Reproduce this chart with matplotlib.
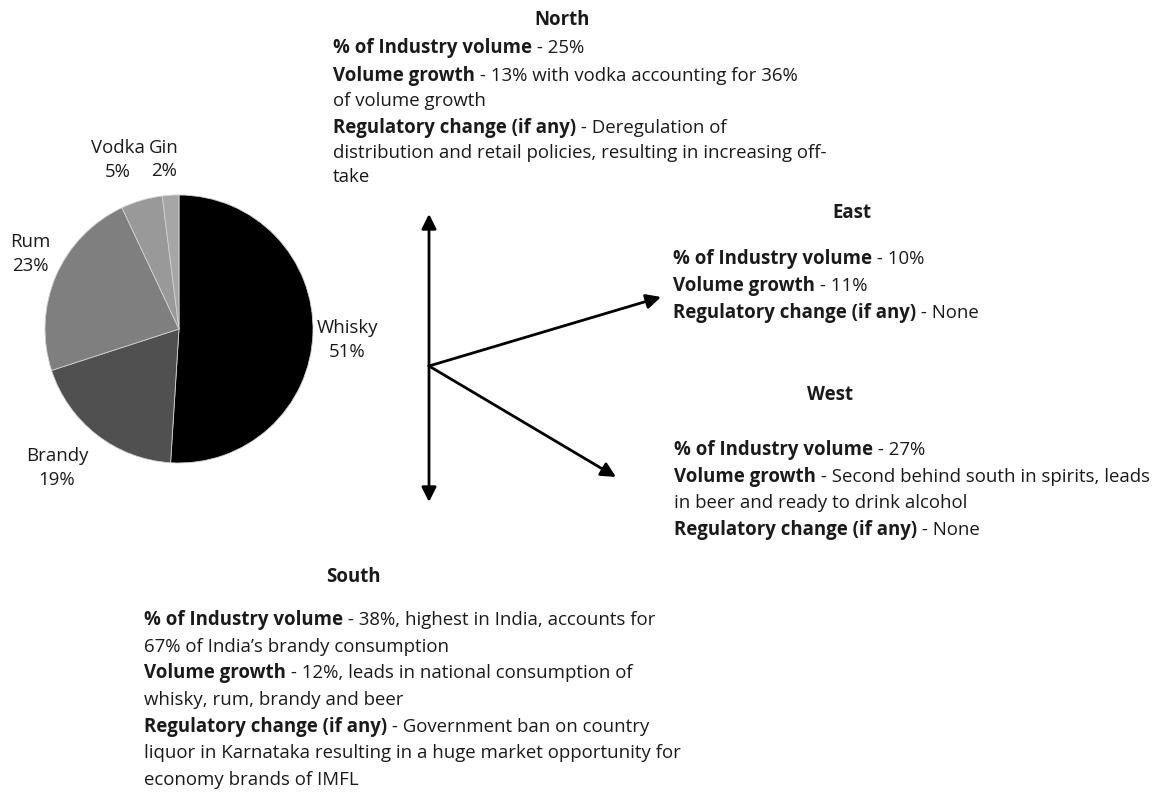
import numpy as np
import matplotlib
matplotlib.use("Agg")
import matplotlib.pyplot as plt

# ---------------- data ----------------
categories = ["Whisky", "Brandy", "Rum", "Vodka", "Gin"]
shares = [51, 19, 23, 5, 2]
slice_colors = ["#000000", "#505050", "#7f7f7f", "#999999", "#a6a6a6"]

north_title = "North"
north_lines = [
    [("% of Industry volume", "bold"), (" - 25%", "normal")],
    [("Volume growth", "bold"), (" - 13% with vodka accounting for 36%", "normal")],
    [("of volume growth", "normal")],
    [("Regulatory change (if any)", "bold"), (" - Deregulation of", "normal")],
    [("distribution and retail policies, resulting in increasing off-", "normal")],
    [("take", "normal")],
]
east_title = "East"
east_lines = [
    [("% of Industry volume", "bold"), (" - 10%", "normal")],
    [("Volume growth", "bold"), (" - 11%", "normal")],
    [("Regulatory change (if any)", "bold"), (" - None", "normal")],
]
west_title = "West"
west_lines = [
    [("% of Industry volume", "bold"), (" - 27%", "normal")],
    [("Volume growth", "bold"), (" - Second behind south in spirits, leads", "normal")],
    [("in beer and ready to drink alcohol", "normal")],
    [("Regulatory change (if any)", "bold"), (" - None", "normal")],
]
south_title = "South"
south_lines = [
    [("% of Industry volume", "bold"), (" - 38%, highest in India, accounts for", "normal")],
    [("67% of India\u2019s brandy consumption", "normal")],
    [("Volume growth", "bold"), (" - 12%, leads in national consumption of", "normal")],
    [("whisky, rum, brandy and beer", "normal")],
    [("Regulatory change (if any)", "bold"), (" - Government ban on country", "normal")],
    [("liquor in Karnataka resulting in a huge market opportunity for", "normal")],
    [("economy brands of IMFL", "normal")],
]

# ---------------- figure ----------------
W, H = 1154, 795
plt.rcParams['font.family'] = ['Open Sans', 'DejaVu Sans']
FS = 13.4
TXT = "#1a1a1a"
fig = plt.figure(figsize=(W / 100, H / 100), dpi=100)

# overlay axes in pixel coordinates (y downwards)
ov = fig.add_axes([0, 0, 1, 1])
ov.set_xlim(0, W)
ov.set_ylim(H, 0)
ov.axis("off")

# pie axes
cx, cy, r = 179, 329, 134
pax = fig.add_axes([(cx - r) / W, (H - cy - r) / H, 2 * r / W, 2 * r / H])
wedges, _ = pax.pie(shares, colors=slice_colors, startangle=90, counterclock=False,
                    wedgeprops=dict(edgecolor="#d0d0d0", linewidth=0.6))
pax.set_xlim(-1, 1)
pax.set_ylim(-1, 1)
pax.set_aspect("equal")
pax.axis("off")

# label placement (angle nudge in degrees, radial distance)
label_style = [(-2.0, 1.26), (-3.5, 1.38), (-3.3, 1.245), (3.6, 1.34), (1.5, 1.27)]
total = float(sum(shares))
cum = 0.0
for cat, val, (dang, dist) in zip(categories, shares, label_style):
    mid = 90.0 - 360.0 * (cum + val / 2.0) / total
    cum += val
    ang = np.deg2rad(mid + dang)
    pax.text(dist * np.cos(ang), dist * np.sin(ang), f"{cat}\n{val}%",
             ha="center", va="center", fontsize=FS, linespacing=1.4,
             color=TXT, clip_on=False)


def rich_line(x, y, parts):
    t = ov.text(x, y, parts[0][0], fontweight=parts[0][1], fontsize=FS,
                ha="left", va="center", color=TXT)
    for s, wgt in parts[1:]:
        t = ov.annotate(s, xy=(1, 0), xycoords=t, xytext=(0, 0.7),
                        textcoords="offset points", ha="left", va="bottom",
                        fontweight=wgt, fontsize=FS, color=TXT)


def block(title, tx, ty, lines, lx, ys):
    ov.text(tx, ty, title, fontweight="bold", fontsize=FS, ha="center",
            va="center", color=TXT)
    for parts, y in zip(lines, ys):
        rich_line(lx, y, parts)


block(north_title, 562, 20, north_lines, 333, [48, 76, 101, 128, 153, 177])
block(east_title, 852, 213, east_lines, 673, [259, 286, 313])
block(west_title, 830, 395, west_lines, 674, [450, 477, 503, 530])
block(south_title, 353, 577, south_lines, 144, [620, 647, 673, 700, 727, 753, 780])

# arrows
ap = dict(arrowstyle="-|>", color="black", lw=2, mutation_scale=22,
          shrinkA=0, shrinkB=0)
jx, jy = 429, 366
ov.annotate("", xy=(429, 214), xytext=(jx, jy), arrowprops=ap)
ov.annotate("", xy=(429, 502), xytext=(jx, jy), arrowprops=ap)
ov.annotate("", xy=(661, 297), xytext=(jx, jy), arrowprops=ap)
ov.annotate("", xy=(616, 477), xytext=(jx, jy), arrowprops=ap)

fig.savefig("out.png", dpi=100, facecolor="white")
